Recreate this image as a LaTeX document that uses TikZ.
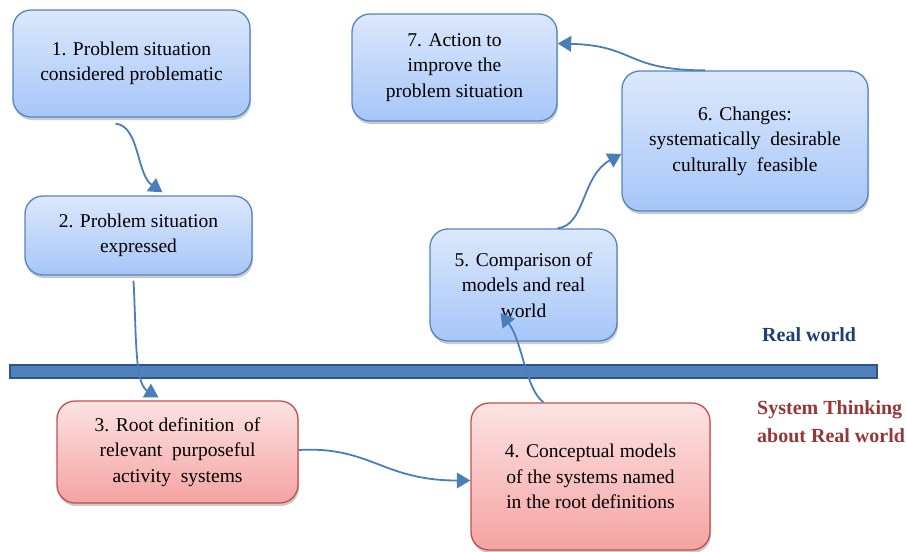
\documentclass[tikz,border=0pt]{standalone}
\usepackage{fontspec}
\setmainfont{Liberation Serif}
\newfontfamily\boxfont{Liberation Serif}
\usetikzlibrary{shadows,arrows.meta}
\definecolor{bbord}{HTML}{5585C0}
\definecolor{btop}{HTML}{DCE8FC}
\definecolor{bbot}{HTML}{A6C6F8}
\definecolor{rbord}{HTML}{C0504D}
\definecolor{rtop}{HTML}{FDE3E3}
\definecolor{rbot}{HTML}{F4A3A2}
\definecolor{arr}{HTML}{4A7EBB}
\definecolor{barfill}{HTML}{4F81BD}
\definecolor{barbord}{HTML}{2F5486}
\definecolor{rwtext}{HTML}{1F3F73}
\definecolor{sttext}{HTML}{953735}
\tikzset{
  base/.style={rounded corners=18pt, line width=1.3pt, align=center,
    font=\boxfont\fontsize{19.5}{25.5}\selectfont, inner sep=0pt,
    execute at begin node={\rule{0pt}{19pt}},
    drop shadow={shadow xshift=1pt, shadow yshift=-3pt, opacity=0.35, fill=black!60}},
  bluebox/.style={base, draw=bbord, top color=btop, bottom color=bbot},
  redbox/.style={base, draw=rbord, top color=rtop, bottom color=rbot},
  conn/.style={draw=arr, line width=1.8pt, arrows={-Triangle[scale=1.7]}},
  lbl/.style={font=\boxfont\bfseries\fontsize{20}{26}\selectfont, anchor=west, inner sep=0pt}
}
\begin{document}
\begin{tikzpicture}[x=1pt,y=-1pt]
\useasboundingbox (0,0) rectangle (906,552);
\node[bluebox, minimum width=237pt, minimum height=107pt] (b1) at (131.5,63.5) {1. Problem situation\\considered problematic};
\node[bluebox, minimum width=227pt, minimum height=79pt] (b2) at (138.5,235.5) {2. Problem situation\\expressed};
\node[redbox, minimum width=241pt, minimum height=102pt] (b3) at (177.5,452) {3. Root definition\ \ of\\relevant\ \ purposeful\\activity\ \ systems};
\node[redbox, minimum width=239pt, minimum height=147pt] (b4) at (590.5,476.5) {4. Conceptual models\\of the systems named\\in the root definitions};
\node[bluebox, minimum width=187pt, minimum height=112pt] (b5) at (523.5,285) {5. Comparison of\\models and real\\world};
\node[bluebox, minimum width=246pt, minimum height=140pt] (b6) at (745,141) {6. Changes:\\systematically\ \ desirable\\culturally\ \ feasible};
\node[bluebox, minimum width=205pt, minimum height=107pt] (b7) at (454.5,67.5) {7. Action to\\improve the\\problem situation};

\fill[barfill, draw=barbord, line width=1.5pt] (10,365) rectangle (877,378);

\node[lbl, text=rwtext] (rw) at (762,335) {Real world};
\node[lbl, text=sttext] (st1) at (757,410) {System Thinking};
\node[lbl, text=sttext] (st2) at (757,436) {about Real world};

\coordinate (s12) at ([xshift=-16pt,yshift=-6pt]b1.south);
\coordinate (e12) at ([xshift=24pt,yshift=3pt]b2.north);
\draw[conn] (s12) .. controls +(24,2) and +(-26,-18) .. (e12);

\coordinate (s23) at ([xshift=-5pt,yshift=-5pt]b2.south);
\coordinate (e23) at ([xshift=-19pt,yshift=3pt]b3.north);
\draw[conn] (s23) .. controls +(3,55) and +(-24,-14) .. (e23);

\coordinate (s34) at ([yshift=2pt]b3.east);
\coordinate (e34) at ([yshift=-4pt]b4.west);
\draw[conn] (s34) .. controls +(72,-4) and +(-88,0) .. (e34);

\coordinate (s45) at ([xshift=-47pt]b4.north);
\coordinate (e45) at ([xshift=-23pt,yshift=-28pt]b5.center);
\draw[conn] (s45) .. controls +(-18,-13) and +(22,28) .. (e45);

\coordinate (s56) at ([xshift=34pt]b5.north);
\coordinate (e56) at ([yshift=-13pt]b6.west);
\draw[conn] (s56) .. controls +(28,-3) and +(-40,22) .. (e56);

\coordinate (s67) at ([xshift=-40pt]b6.north);
\coordinate (e67) at ([yshift=24pt]b7.east);
\draw[conn] (s67) .. controls +(-80,0) and +(78,2) .. (e67);
\end{tikzpicture}
\end{document}
